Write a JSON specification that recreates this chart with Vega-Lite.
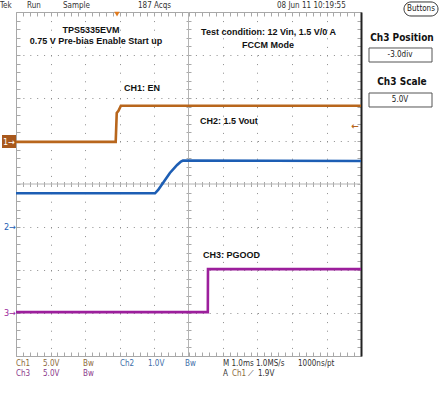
{
  "$schema": "https://vega.github.io/schema/vega-lite/v6.json",
  "width": 345,
  "height": 344,
  "autosize": "none",
  "padding": {"left": 16, "top": 12, "right": 79, "bottom": 38},
  "background": "white",
  "config": {"view": {"stroke": null}},
  "datasets": {
    "ch1": [{"t": 0, "v": 0.98}, {"t": 2.89, "v": 0.98}, {"t": 2.92, "v": 1.65}, {"t": 2.97, "v": 1.7}, {"t": 3.04, "v": 1.82}, {"t": 10, "v": 1.82}],
    "ch2": [{"t": 0, "v": -0.216}, {"t": 4.03, "v": -0.216}, {"t": 4.12, "v": -0.14}, {"t": 4.26, "v": 0.023}, {"t": 4.46, "v": 0.256}, {"t": 4.67, "v": 0.442}, {"t": 4.78, "v": 0.523}, {"t": 4.84, "v": 0.547}, {"t": 10, "v": 0.535}],
    "ch3": [{"t": 0, "v": -2.98}, {"t": 5.56, "v": -2.98}, {"t": 5.565, "v": -1.98}, {"t": 10, "v": -1.98}]
  },
  "resolve": {"axis": {"x": "independent", "y": "independent"}},
  "layer": [
    {
      "data": {"values": [{}]},
      "mark": {"type": "rule", "color": "#b4b4b4", "strokeWidth": 1},
      "encoding": {
        "x": {"datum": 5, "type": "quantitative", "scale": {"domain": [0, 10], "nice": false, "zero": false},
          "axis": {"orient": "bottom", "title": null, "labels": false, "ticks": false, "domain": false, "grid": true, "values": [1, 2, 3, 4, 6, 7, 8, 9], "gridDash": [1, 7.6], "gridColor": "#8c8c8c", "gridWidth": 1}},
        "y": {"datum": -4, "type": "quantitative", "scale": {"domain": [-4, 4], "nice": false, "zero": false},
          "axis": {"orient": "left", "title": null, "labels": false, "ticks": false, "domain": false, "grid": true, "values": [-3, -2, -1, 1, 2, 3], "gridDash": [1, 5.9], "gridColor": "#8c8c8c", "gridWidth": 1}},
        "y2": {"datum": 4}
      }
    },
    {
      "data": {"values": [{}]},
      "mark": {"type": "rule", "color": "#b4b4b4", "strokeWidth": 1},
      "encoding": {
        "y": {"datum": 0, "type": "quantitative", "scale": {"domain": [-4, 4], "nice": false, "zero": false}, "axis": null},
        "x": {"datum": 0, "type": "quantitative", "scale": {"domain": [0, 10], "nice": false, "zero": false}, "axis": null},
        "x2": {"datum": 10}
      }
    },
    {
      "data": {"name": "ch1"},
      "mark": {"type": "line", "color": "#b8661c", "strokeWidth": 2.6},
      "encoding": {
        "x": {"field": "t", "type": "quantitative", "scale": {"domain": [0, 10], "nice": false, "zero": false},
          "axis": {"orient": "bottom", "title": null, "labels": false, "grid": false, "tickSize": -4, "tickColor": "#a8a8a8", "domainColor": "#a8a8a8",
            "values": [0,0.2,0.4,0.6,0.8,1,1.2,1.4,1.6,1.8,2,2.2,2.4,2.6,2.8,3,3.2,3.4,3.6,3.8,4,4.2,4.4,4.6,4.8,5,5.2,5.4,5.6,5.8,6,6.2,6.4,6.6,6.8,7,7.2,7.4,7.6,7.8,8,8.2,8.4,8.6,8.8,9,9.2,9.4,9.6,9.8,10]}},
        "y": {"field": "v", "type": "quantitative", "scale": {"domain": [-4, 4], "nice": false, "zero": false},
          "axis": {"orient": "left", "title": null, "labels": false, "grid": false, "tickSize": -4, "tickColor": "#a8a8a8", "domainColor": "#a8a8a8",
            "values": [-4,-3.8,-3.6,-3.4,-3.2,-3,-2.8,-2.6,-2.4,-2.2,-2,-1.8,-1.6,-1.4,-1.2,-1,-0.8,-0.6,-0.4,-0.2,0,0.2,0.4,0.6,0.8,1,1.2,1.4,1.6,1.8,2,2.2,2.4,2.6,2.8,3,3.2,3.4,3.6,3.8,4]}}
      }
    },
    {
      "data": {"name": "ch2"},
      "mark": {"type": "line", "color": "#1d5eb4", "strokeWidth": 2.6},
      "encoding": {
        "x": {"field": "t", "type": "quantitative", "scale": {"domain": [0, 10], "nice": false, "zero": false},
          "axis": {"orient": "top", "title": null, "labels": false, "grid": false, "tickSize": -4, "tickColor": "#a8a8a8", "domainColor": "#a8a8a8",
            "values": [0,0.2,0.4,0.6,0.8,1,1.2,1.4,1.6,1.8,2,2.2,2.4,2.6,2.8,3,3.2,3.4,3.6,3.8,4,4.2,4.4,4.6,4.8,5,5.2,5.4,5.6,5.8,6,6.2,6.4,6.6,6.8,7,7.2,7.4,7.6,7.8,8,8.2,8.4,8.6,8.8,9,9.2,9.4,9.6,9.8,10]}},
        "y": {"field": "v", "type": "quantitative", "scale": {"domain": [-4, 4], "nice": false, "zero": false},
          "axis": {"orient": "right", "title": null, "labels": false, "grid": false, "tickSize": -4, "tickColor": "#a8a8a8", "domainColor": "#222222", "domainWidth": 2,
            "values": [-4,-3.8,-3.6,-3.4,-3.2,-3,-2.8,-2.6,-2.4,-2.2,-2,-1.8,-1.6,-1.4,-1.2,-1,-0.8,-0.6,-0.4,-0.2,0,0.2,0.4,0.6,0.8,1,1.2,1.4,1.6,1.8,2,2.2,2.4,2.6,2.8,3,3.2,3.4,3.6,3.8,4]}}
      }
    },
    {
      "data": {"name": "ch3"},
      "mark": {"type": "line", "color": "#9c1f9c", "strokeWidth": 2.6},
      "encoding": {
        "x": {"field": "t", "type": "quantitative", "scale": {"domain": [0, 10], "nice": false, "zero": false},
          "axis": {"orient": "bottom", "offset": -174.5, "title": null, "labels": false, "grid": false, "domain": false, "tickSize": 5, "tickColor": "#a8a8a8",
            "values": [0.2,0.4,0.6,0.8,1,1.2,1.4,1.6,1.8,2,2.2,2.4,2.6,2.8,3,3.2,3.4,3.6,3.8,4,4.2,4.4,4.6,4.8,5.2,5.4,5.6,5.8,6,6.2,6.4,6.6,6.8,7,7.2,7.4,7.6,7.8,8,8.2,8.4,8.6,8.8,9,9.2,9.4,9.6,9.8]}},
        "y": {"field": "v", "type": "quantitative", "scale": {"domain": [-4, 4], "nice": false, "zero": false},
          "axis": {"orient": "left", "offset": -175, "title": null, "labels": false, "grid": false, "domain": false, "tickSize": 5, "tickColor": "#a8a8a8",
            "values": [-3.8,-3.6,-3.4,-3.2,-3,-2.8,-2.6,-2.4,-2.2,-2,-1.8,-1.6,-1.4,-1.2,-1,-0.8,-0.6,-0.4,-0.2,0.2,0.4,0.6,0.8,1,1.2,1.4,1.6,1.8,2,2.2,2.4,2.6,2.8,3,3.2,3.4,3.6,3.8]}}
      }
    },
    {
      "data": {"values": [
        {"label": "Tek", "t": -0.464, "v": 4.14},
        {"label": "Run", "t": 0.319, "v": 4.14},
        {"label": "Sample", "t": 1.362, "v": 4.14},
        {"label": "187 Acqs", "t": 3.536, "v": 4.14},
        {"label": "08 Jun 11 10:19:55", "t": 7.565, "v": 4.14}
      ]},
      "mark": {"type": "text", "font": "Liberation Sans Narrow, DejaVu Sans Condensed, sans-serif", "fontSize": 8, "color": "#333333", "align": "left", "baseline": "middle"},
      "encoding": {
        "x": {"field": "t", "type": "quantitative", "scale": {"domain": [0, 10], "nice": false, "zero": false}, "axis": null},
        "y": {"field": "v", "type": "quantitative", "scale": {"domain": [-4, 4], "nice": false, "zero": false}, "axis": null},
        "text": {"field": "label"}
      }
    },
    {
      "data": {"values": [
        {"t": 10.232, "t2": 12.058, "v": 3.163, "v2": 2.837},
        {"t": 10.232, "t2": 12.058, "v": 2.116, "v2": 1.791}
      ]},
      "mark": {"type": "rect", "fill": "white", "stroke": "#555555", "strokeWidth": 1},
      "encoding": {
        "x": {"field": "t", "type": "quantitative", "scale": {"domain": [0, 10], "nice": false, "zero": false}, "axis": null},
        "x2": {"field": "t2"},
        "y": {"field": "v", "type": "quantitative", "scale": {"domain": [-4, 4], "nice": false, "zero": false}, "axis": null},
        "y2": {"field": "v2"}
      }
    },
    {
      "data": {"values": [{"t": 11.246, "t2": 12.232, "v": 4.233, "v2": 3.907}]},
      "mark": {"type": "rect", "fill": "white", "stroke": "#333333", "strokeWidth": 1, "cornerRadius": 7},
      "encoding": {
        "x": {"field": "t", "type": "quantitative", "scale": {"domain": [0, 10], "nice": false, "zero": false}, "axis": null},
        "x2": {"field": "t2"},
        "y": {"field": "v", "type": "quantitative", "scale": {"domain": [-4, 4], "nice": false, "zero": false}, "axis": null},
        "y2": {"field": "v2"}
      }
    },
    {
      "data": {"values": [
        {"label": "-3.0div", "t": 11.13, "v": 3.0},
        {"label": "5.0V", "t": 11.13, "v": 1.953},
        {"label": "Buttons", "t": 11.739, "v": 4.07}
      ]},
      "mark": {"type": "text", "font": "Liberation Sans Narrow, DejaVu Sans Condensed, sans-serif", "fontSize": 8, "color": "#222222", "align": "center", "baseline": "middle"},
      "encoding": {
        "x": {"field": "t", "type": "quantitative", "scale": {"domain": [0, 10], "nice": false, "zero": false}, "axis": null},
        "y": {"field": "v", "type": "quantitative", "scale": {"domain": [-4, 4], "nice": false, "zero": false}, "axis": null},
        "text": {"field": "label"}
      }
    },
    {
      "data": {"values": [
        {"label": "Ch3 Position", "t": 11.188, "v": 3.395},
        {"label": "Ch3 Scale", "t": 11.188, "v": 2.372}
      ]},
      "mark": {"type": "text", "font": "Liberation Sans Narrow, DejaVu Sans Condensed, sans-serif", "fontWeight": "bold", "fontSize": 10, "color": "#111111", "align": "center", "baseline": "middle"},
      "encoding": {
        "x": {"field": "t", "type": "quantitative", "scale": {"domain": [0, 10], "nice": false, "zero": false}, "axis": null},
        "y": {"field": "v", "type": "quantitative", "scale": {"domain": [-4, 4], "nice": false, "zero": false}, "axis": null},
        "text": {"field": "label"}
      }
    },
    {
      "data": {"values": [
        {"label": "TPS5335EVM", "t": 2.174, "v": 3.581},
        {"label": "0.75 V Pre-bias Enable Start up", "t": 2.319, "v": 3.326},
        {"label": "Test condition: 12 Vin, 1.5 V/0 A", "t": 7.319, "v": 3.535},
        {"label": "FCCM Mode", "t": 7.304, "v": 3.233}
      ]},
      "mark": {"type": "text", "font": "Liberation Sans, Arial, sans-serif", "fontWeight": "bold", "fontSize": 9, "color": "#111111", "align": "center", "baseline": "middle"},
      "encoding": {
        "x": {"field": "t", "type": "quantitative", "scale": {"domain": [0, 10], "nice": false, "zero": false}, "axis": null},
        "y": {"field": "v", "type": "quantitative", "scale": {"domain": [-4, 4], "nice": false, "zero": false}, "axis": null},
        "text": {"field": "label"}
      }
    },
    {
      "data": {"values": [
        {"label": "CH1: EN", "t": 3.13, "v": 2.233},
        {"label": "CH2: 1.5 Vout", "t": 5.333, "v": 1.465},
        {"label": "CH3: PGOOD", "t": 5.42, "v": -1.651}
      ]},
      "mark": {"type": "text", "font": "Liberation Sans, Arial, sans-serif", "fontWeight": "bold", "fontSize": 9, "color": "#111111", "align": "left", "baseline": "middle"},
      "encoding": {
        "x": {"field": "t", "type": "quantitative", "scale": {"domain": [0, 10], "nice": false, "zero": false}, "axis": null},
        "y": {"field": "v", "type": "quantitative", "scale": {"domain": [-4, 4], "nice": false, "zero": false}, "axis": null},
        "text": {"field": "label"}
      }
    },
    {
      "data": {"values": [
        {"label": "Ch1", "t": 0, "v": -4.186},
        {"label": "5.0V", "t": 0.783, "v": -4.186},
        {"label": "Bw", "t": 1.942, "v": -4.186},
        {"label": "Ch1", "t": 6.261, "v": -4.419}
      ]},
      "mark": {"type": "text", "font": "Liberation Sans Narrow, DejaVu Sans Condensed, sans-serif", "fontSize": 8, "color": "#8c6a3c", "align": "left", "baseline": "middle"},
      "encoding": {
        "x": {"field": "t", "type": "quantitative", "scale": {"domain": [0, 10], "nice": false, "zero": false}, "axis": null},
        "y": {"field": "v", "type": "quantitative", "scale": {"domain": [-4, 4], "nice": false, "zero": false}, "axis": null},
        "text": {"field": "label"}
      }
    },
    {
      "data": {"values": [
        {"label": "Ch2", "t": 3.014, "v": -4.186},
        {"label": "1.0V", "t": 3.826, "v": -4.186},
        {"label": "Bw", "t": 4.899, "v": -4.186}
      ]},
      "mark": {"type": "text", "font": "Liberation Sans Narrow, DejaVu Sans Condensed, sans-serif", "fontSize": 8, "color": "#3d6ea8", "align": "left", "baseline": "middle"},
      "encoding": {
        "x": {"field": "t", "type": "quantitative", "scale": {"domain": [0, 10], "nice": false, "zero": false}, "axis": null},
        "y": {"field": "v", "type": "quantitative", "scale": {"domain": [-4, 4], "nice": false, "zero": false}, "axis": null},
        "text": {"field": "label"}
      }
    },
    {
      "data": {"values": [
        {"label": "Ch3", "t": 0, "v": -4.419},
        {"label": "5.0V", "t": 0.783, "v": -4.419},
        {"label": "Bw", "t": 1.942, "v": -4.419}
      ]},
      "mark": {"type": "text", "font": "Liberation Sans Narrow, DejaVu Sans Condensed, sans-serif", "fontSize": 8, "color": "#8b3a8b", "align": "left", "baseline": "middle"},
      "encoding": {
        "x": {"field": "t", "type": "quantitative", "scale": {"domain": [0, 10], "nice": false, "zero": false}, "axis": null},
        "y": {"field": "v", "type": "quantitative", "scale": {"domain": [-4, 4], "nice": false, "zero": false}, "axis": null},
        "text": {"field": "label"}
      }
    },
    {
      "data": {"values": [
        {"label": "M 1.0ms 1.0MS/s", "t": 6.0, "v": -4.186},
        {"label": "1000ns/pt", "t": 8.174, "v": -4.186},
        {"label": "A", "t": 6.0, "v": -4.419},
        {"label": "⟋", "t": 6.725, "v": -4.419},
        {"label": "1.9V", "t": 7.014, "v": -4.419}
      ]},
      "mark": {"type": "text", "font": "Liberation Sans Narrow, DejaVu Sans Condensed, sans-serif", "fontSize": 8, "color": "#333333", "align": "left", "baseline": "middle"},
      "encoding": {
        "x": {"field": "t", "type": "quantitative", "scale": {"domain": [0, 10], "nice": false, "zero": false}, "axis": null},
        "y": {"field": "v", "type": "quantitative", "scale": {"domain": [-4, 4], "nice": false, "zero": false}, "axis": null},
        "text": {"field": "label"}
      }
    },
    {
      "data": {"values": [{"t": -0.406, "t2": 0, "v": 1.14, "v2": 0.837}]},
      "mark": {"type": "rect", "fill": "#a8581c"},
      "encoding": {
        "x": {"field": "t", "type": "quantitative", "scale": {"domain": [0, 10], "nice": false, "zero": false}, "axis": null},
        "x2": {"field": "t2"},
        "y": {"field": "v", "type": "quantitative", "scale": {"domain": [-4, 4], "nice": false, "zero": false}, "axis": null},
        "y2": {"field": "v2"}
      }
    },
    {
      "data": {"values": [{"label": "1→", "t": -0.203, "v": 0.988}]},
      "mark": {"type": "text", "font": "Liberation Sans Narrow, DejaVu Sans Condensed, sans-serif", "fontSize": 9, "color": "white", "align": "center", "baseline": "middle"},
      "encoding": {
        "x": {"field": "t", "type": "quantitative", "scale": {"domain": [0, 10], "nice": false, "zero": false}, "axis": null},
        "y": {"field": "v", "type": "quantitative", "scale": {"domain": [-4, 4], "nice": false, "zero": false}, "axis": null},
        "text": {"field": "label"}
      }
    },
    {
      "data": {"values": [{"label": "2→", "t": 0, "v": -1.0}]},
      "mark": {"type": "text", "font": "Liberation Sans Narrow, DejaVu Sans Condensed, sans-serif", "fontSize": 9, "color": "#1d5eb4", "align": "right", "baseline": "middle"},
      "encoding": {
        "x": {"field": "t", "type": "quantitative", "scale": {"domain": [0, 10], "nice": false, "zero": false}, "axis": null},
        "y": {"field": "v", "type": "quantitative", "scale": {"domain": [-4, 4], "nice": false, "zero": false}, "axis": null},
        "text": {"field": "label"}
      }
    },
    {
      "data": {"values": [{"label": "3→", "t": 0, "v": -3.0}]},
      "mark": {"type": "text", "font": "Liberation Sans Narrow, DejaVu Sans Condensed, sans-serif", "fontSize": 9, "color": "#9c1f9c", "align": "right", "baseline": "middle"},
      "encoding": {
        "x": {"field": "t", "type": "quantitative", "scale": {"domain": [0, 10], "nice": false, "zero": false}, "axis": null},
        "y": {"field": "v", "type": "quantitative", "scale": {"domain": [-4, 4], "nice": false, "zero": false}, "axis": null},
        "text": {"field": "label"}
      }
    },
    {
      "data": {"values": [{"t": 2.928, "v": 3.95}]},
      "mark": {"type": "point", "shape": "triangle-down", "filled": true, "color": "#e07a1e", "size": 30, "opacity": 1},
      "encoding": {
        "x": {"field": "t", "type": "quantitative", "scale": {"domain": [0, 10], "nice": false, "zero": false}, "axis": null},
        "y": {"field": "v", "type": "quantitative", "scale": {"domain": [-4, 4], "nice": false, "zero": false}, "axis": null}
      }
    },
    {
      "data": {"values": [{"label": "←", "t": 9.826, "v": 1.349}]},
      "mark": {"type": "text", "font": "DejaVu Sans, sans-serif", "fontSize": 9, "fontWeight": "bold", "color": "#b8661c", "align": "center", "baseline": "middle"},
      "encoding": {
        "x": {"field": "t", "type": "quantitative", "scale": {"domain": [0, 10], "nice": false, "zero": false}, "axis": null},
        "y": {"field": "v", "type": "quantitative", "scale": {"domain": [-4, 4], "nice": false, "zero": false}, "axis": null},
        "text": {"field": "label"}
      }
    }
  ]
}
